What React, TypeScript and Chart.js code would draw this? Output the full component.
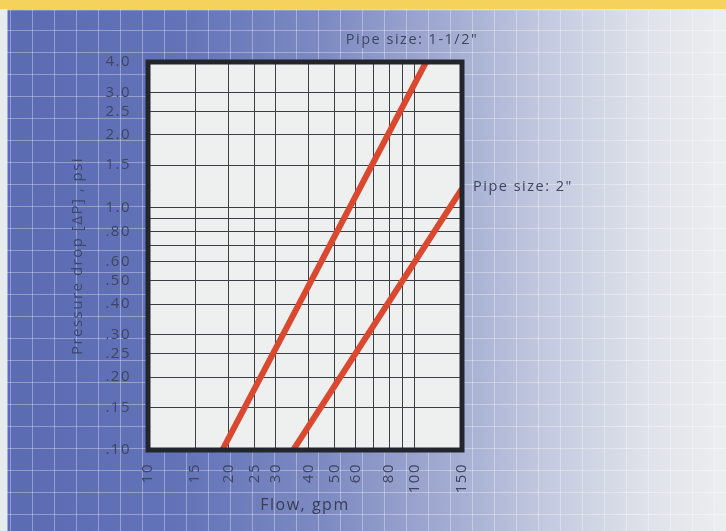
import React, { useEffect, useRef } from "react";
import { Chart, registerables } from "chart.js";

Chart.register(...registerables);

// ---- data ----
const X_TICKS = [10, 15, 20, 25, 30, 40, 50, 60, 70, 80, 90, 100, 150];
const X_TICK_LABELS = ["10", "15", "20", "25", "30", "40", "50", "60", "", "80", "", "100", "150"];
const Y_TICKS = [0.1, 0.15, 0.2, 0.25, 0.3, 0.4, 0.5, 0.6, 0.7, 0.8, 0.9, 1, 1.5, 2, 2.5, 3, 4];
const Y_TICK_LABELS = [".10", ".15", ".20", ".25", ".30", ".40", ".50", ".60", "", ".80", "", "1.0", "1.5", "2.0", "2.5", "3.0", "4.0"];
const SERIES_NAMES = ['Pipe size: 1-1/2"', 'Pipe size: 2"'];
const FLOW_1_5 = [19, 110];
const DROP_1_5 = [0.1, 4.0];
const FLOW_2 = [35, 150];
const DROP_2 = [0.1, 1.2];
const X_TITLE = "Flow, gpm";
const Y_TITLE = "Pressure drop [\u0394P] , psi";

const FONT = '"Open Sans", "DejaVu Sans", sans-serif';
const TEXT = "#3f4560";
const LINE_RED = "#d9482f";

const spacingPlugin = {
  id: "spacing",
  beforeLayout(chart: any) {
    (chart.ctx as any).letterSpacing = "1.5px";
  },
  beforeDraw(chart: any) {
    (chart.ctx as any).letterSpacing = "1.5px";
    const a = chart.chartArea;
    const ctx = chart.ctx;
    ctx.save();
    ctx.fillStyle = "#eef0ef";
    ctx.fillRect(a.left, a.top, a.right - a.left, a.bottom - a.top);
    ctx.restore();
  },
  afterDatasetsDraw(chart: any) {
    const a = chart.chartArea;
    const ctx = chart.ctx;
    ctx.save();
    ctx.strokeStyle = "#22262c";
    ctx.lineWidth = 5;
    ctx.strokeRect(a.left, a.top, a.right - a.left, a.bottom - a.top);
    ctx.restore();
  },
  afterDraw(chart: any) {
    const a = chart.chartArea;
    const ctx = chart.ctx;
    ctx.save();
    (ctx as any).letterSpacing = "1.5px";
    ctx.font = `14.5px ${FONT}`;
    ctx.fillStyle = TEXT;
    ctx.textBaseline = "middle";
    const m0 = chart.getDatasetMeta(0).data;
    const p0 = m0[m0.length - 1];
    ctx.textAlign = "center";
    ctx.fillText(SERIES_NAMES[0], p0.x - 14, a.top - 22);
    const m1 = chart.getDatasetMeta(1).data;
    const p1 = m1[m1.length - 1];
    ctx.textAlign = "left";
    ctx.fillText(SERIES_NAMES[1], a.right + 11, p1.y - 2);
    ctx.restore();
  },
};

function lookup(values: number[], labels: string[], v: number) {
  const i = values.findIndex((t) => Math.abs(t - v) < 1e-9);
  return i >= 0 ? labels[i] : "";
}

export default function App() {
  const ref = useRef<HTMLCanvasElement | null>(null);

  useEffect(() => {
    if (!ref.current) return;
    const chart = new Chart(ref.current, {
      type: "line",
      data: {
        datasets: [
          {
            label: SERIES_NAMES[0],
            data: FLOW_1_5.map((x, i) => ({ x, y: DROP_1_5[i] })),
            borderColor: LINE_RED,
            backgroundColor: LINE_RED,
            borderWidth: 6,
            pointRadius: 0,
            tension: 0,
          },
          {
            label: SERIES_NAMES[1],
            data: FLOW_2.map((x, i) => ({ x, y: DROP_2[i] })),
            borderColor: LINE_RED,
            backgroundColor: LINE_RED,
            borderWidth: 6,
            pointRadius: 0,
            tension: 0,
          },
        ],
      },
      options: {
        animation: false,
        responsive: false,
        devicePixelRatio: 1,
        layout: { padding: { top: 62, right: 264, left: 0, bottom: 0 } },
        plugins: {
          legend: { display: false },
          tooltip: { enabled: false },
        },
        scales: {
          x: {
            type: "logarithmic",
            min: 10,
            max: 150,
            afterBuildTicks: (scale: any) => {
              scale.ticks = X_TICKS.map((v) => ({ value: v }));
            },
            afterFit: (scale: any) => {
              scale.height = 81;
            },
            grid: { color: "#3b3e44", lineWidth: 1, drawTicks: false },
            border: { display: false },
            ticks: {
              autoSkip: false,
              minRotation: 90,
              maxRotation: 90,
              padding: 13,
              color: TEXT,
              font: { family: FONT, size: 15 },
              callback: (v: any) => lookup(X_TICKS, X_TICK_LABELS, Number(v)),
            },
            title: {
              display: true,
              text: X_TITLE,
              color: "#383d52",
              font: { family: FONT, size: 16 },
              padding: { top: 0, bottom: 16 },
            },
          },
          y: {
            type: "logarithmic",
            min: 0.1,
            max: 4,
            afterBuildTicks: (scale: any) => {
              scale.ticks = Y_TICKS.map((v) => ({ value: v }));
            },
            afterFit: (scale: any) => {
              scale.width = 148;
            },
            grid: { color: "#3b3e44", lineWidth: 1, drawTicks: false },
            border: { display: false },
            ticks: {
              autoSkip: false,
              padding: 17,
              color: TEXT,
              font: { family: FONT, size: 15 },
              callback: (v: any) => lookup(Y_TICKS, Y_TICK_LABELS, Number(v)),
            },
            title: {
              display: true,
              text: Y_TITLE,
              color: "#3f466c",
              font: { family: FONT, size: 15 },
              padding: { top: 69, bottom: 0 },
            },
          },
        },
      },
      plugins: [spacingPlugin],
    } as any);
    return () => chart.destroy();
  }, []);

  const bg = {
    position: "absolute" as const,
    left: 0,
    top: 0,
    width: 726,
    height: 531,
    overflow: "hidden",
    backgroundImage: [
      "linear-gradient(to bottom, #f4d25c 0px, #f4d25c 9px, #f1ebcf 9px, rgba(255,255,255,0) 11px)",
      "linear-gradient(to right, #e6ecee 0px, #e6ecee 7px, rgba(0,0,0,0) 8px)",
      "linear-gradient(to right, rgba(255,255,255,0.33) 0px, rgba(255,255,255,0.33) 1.5px, rgba(255,255,255,0) 1.5px)",
      "linear-gradient(to bottom, rgba(255,255,255,0.33) 0px, rgba(255,255,255,0.33) 1.5px, rgba(255,255,255,0) 1.5px)",
      "linear-gradient(to right, #5a6bb3 0%, #6373b8 25%, #7e8bc2 45%, #a3acd1 62%, #c5cbe0 76%, #dfe2ea 89%, #eceef0 100%)",
    ].join(", "),
    backgroundSize: "100% 100%, 100% 100%, 22px 100%, 100% 22px, 100% 100%",
    backgroundPosition: "0 0, 0 0, 10px 0, 0 8px, 0 0",
    backgroundRepeat: "no-repeat, no-repeat, repeat-x, repeat-y, no-repeat",
  };

  return (
    <div style={bg}>
      <canvas ref={ref} width={726} height={531} style={{ display: "block", width: 726, height: 531 }} />
    </div>
  );
}
